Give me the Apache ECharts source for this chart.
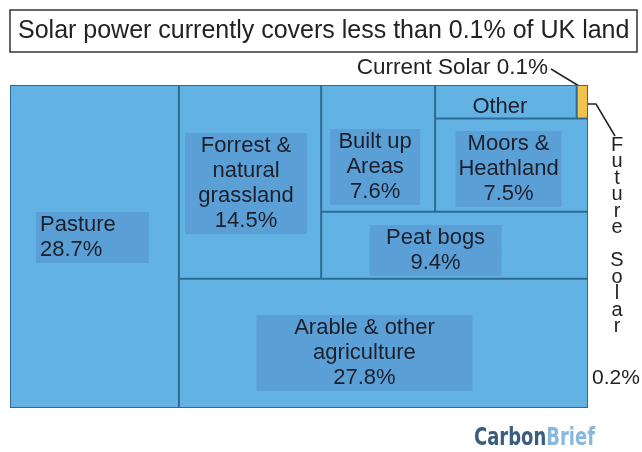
<!DOCTYPE html>
<html><head><meta charset="utf-8">
<script src="https://cdn.jsdelivr.net/npm/echarts@6/dist/echarts.min.js"></script>
<style>html,body{margin:0;padding:0;background:#fff}#c{width:642px;height:452px}</style>
</head><body><div id="c"></div>
<script>
// ---- data ----
const landUse = ['Pasture', 'Forrest & natural grassland', 'Built up Areas', 'Other', 'Future Solar', 'Moors & Heathland', 'Peat bogs', 'Arable & other agriculture'];
const sharePct = [28.7, 14.5, 7.6, 2.5, 0.2, 7.5, 9.4, 27.8];
const labelLines = [['Pasture'], ['Forrest &', 'natural', 'grassland'], ['Built up', 'Areas'], ['Other'], [], ['Moors &', 'Heathland'], ['Peat bogs'], ['Arable & other', 'agriculture']];
const showPct = [true, true, true, false, false, true, true, true];
// nesting of the non-pasture land (indices into landUse)
const restTree = [[1, [[2, [[3, 4], 5]], 6]], 7];
const titleText = 'Solar power currently covers less than 0.1% of UK land';
const currentSolarNote = 'Current Solar 0.1%';
const futureSolarWord = 'Future Solar';
const futureSolarPct = '0.2%';

// ---- styles ----
const FONT = "'Liberation Sans', Arial, sans-serif";
const CELL = '#62b3e3', EDGE = '#2c6b95', LBOX = '#5aa0d6', INK = '#1d1f2b';
const labelLook = {
  0: {w: 105, pad: [2, 4, 2, 4], align: 'left', off: [25, 126.5]},
  1: {w: 96, pad: [2, 13], off: [-4, 47.5]},
  2: {w: 74, pad: [2, 8], off: [-3, 43.5]},
  3: {w: 60, pad: [0, 0], off: [-6, 8], bg: 'transparent'},
  5: {w: 100, pad: [2, 3], off: [-3, 12]},
  6: {w: 100, pad: [2, 16], off: [-19, 12.7]},
  7: {w: 144, pad: [2, 36], off: [-19, 35.7]}
};

function leaf(i) {
  const look = labelLook[i];
  const lines = labelLines[i].concat(showPct[i] ? [sharePct[i] + '%'] : []);
  const text = lines.map(s => '{t|' + s + '}').join('\n');
  const item = {
    name: landUse[i],
    value: sharePct[i],
    itemStyle: {borderWidth: 1, borderColor: EDGE},
    label: {show: false}
  };
  if (i === 4) item.itemStyle.color = '#efc34d';
  if (look) {
    item.label = {
      show: true, position: 'inside', offset: look.off,
      formatter: () => text,
      rich: {t: {width: look.w, align: look.align || 'center', padding: look.pad,
        backgroundColor: look.bg || LBOX, fontSize: 22, lineHeight: 25,
        fontFamily: FONT, color: INK}}
    };
  }
  return item;
}
function build(node) {
  if (typeof node === 'number') return leaf(node);
  return {name: '', itemStyle: {borderWidth: 0}, children: node.map(build)};
}

const total = sharePct.reduce((a, b) => a + b, 0);
const X0 = 10, Y0 = 85, W = 578, H = 323;
const pastureW = W * sharePct[0] / total;

function tm(data, left, width) {
  return {
    type: 'treemap', left: left, top: Y0, width: width, height: H,
    roam: false, nodeClick: false, breadcrumb: {show: false},
    squareRatio: 2.0, sort: false, animation: false,
    levels: [{color: [CELL]}],
    itemStyle: {borderWidth: 0, gapWidth: 0, borderColor: EDGE},
    label: {show: true, padding: 0, color: INK, fontFamily: FONT, fontSize: 22},
    upperLabel: {show: false},
    emphasis: {disabled: true},
    data: data
  };
}

const LOGO_FONT = "'Liberation Sans Narrow', 'DejaVu Sans Condensed', sans-serif";
const chart = echarts.init(document.getElementById('c'));
chart.setOption({
  backgroundColor: '#fff',
  animation: false,
  title: {
    text: titleText, left: 10, top: 10, padding: [6, 8],
    borderColor: '#333', borderWidth: 1.5, backgroundColor: '#fff',
    textStyle: {fontFamily: FONT, fontSize: 25, fontWeight: 'normal', color: '#222', lineHeight: 30}
  },
  series: [
    tm([leaf(0)], X0, pastureW),
    tm(restTree.map(build), X0 + pastureW, W - pastureW)
  ],
  graphic: [
    {type: 'text', x: 548, y: 68, style: {text: currentSolarNote, align: 'right', verticalAlign: 'middle', font: "22.5px " + FONT, fill: '#222'}},
    {type: 'polyline', shape: {points: [[551, 69], [579, 86]]}, style: {stroke: '#222', lineWidth: 1.5, fill: null}},
    {type: 'polyline', shape: {points: [[588, 104], [596, 104], [615, 136]]}, style: {stroke: '#222', lineWidth: 1.5, fill: null}},
    {type: 'text', x: 617, y: 137, style: {text: futureSolarWord.split('').map(c => c === ' ' ? '' : c).join('\n'), align: 'center', verticalAlign: 'top', font: "20px " + FONT, lineHeight: 16.5, fill: '#222'}},
    {type: 'text', x: 616, y: 378, style: {text: futureSolarPct, align: 'center', verticalAlign: 'middle', font: "21px " + FONT, fill: '#222'}},
    {type: 'text', x: 595, y: 438, scaleX: 0.8, style: {
      text: '{a|Carbon}{b|Brief}', align: 'right', verticalAlign: 'middle',
      rich: {a: {fontFamily: LOGO_FONT, fontWeight: 'bold', fontSize: 25, fill: '#3b5e7e'},
             b: {fontFamily: LOGO_FONT, fontWeight: 'bold', fontSize: 25, fill: '#86b8dd'}}
    }}
  ]
});
</script></body></html>
